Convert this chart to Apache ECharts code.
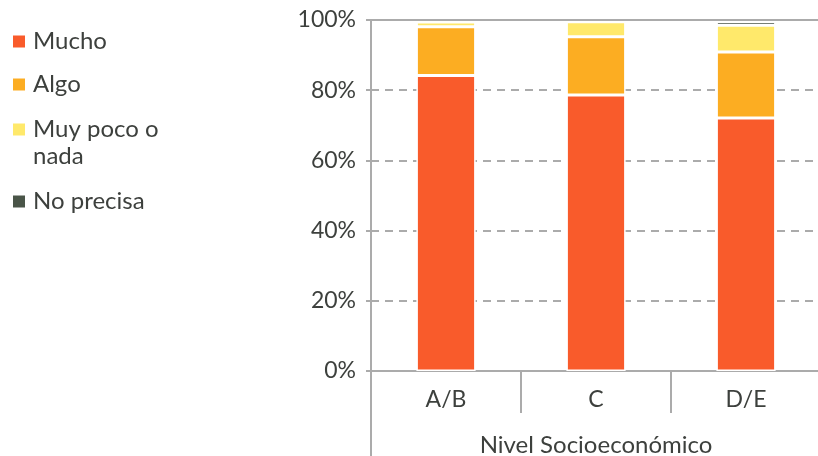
<!DOCTYPE html>
<html><head><meta charset="utf-8">
<script src="https://cdn.jsdelivr.net/npm/echarts@6/dist/echarts.min.js"></script>
<style>html,body{margin:0;padding:0;background:#fff}#c{width:818px;height:456px}</style>
</head><body><div id="c"></div>
<script>
const categories = ['A/B', 'C', 'D/E'];
const seriesNames = ['Mucho', 'Algo', 'Muy poco o nada', 'No precisa'];
const mucho = [84.2, 78.6, 72.1];
const algo = [13.9, 16.6, 18.8];
const muyPoco = [1.3, 4.3, 7.6];
const noPrecisa = [0, 0, 1.1];
const yTicks = [0, 20, 40, 60, 80, 100];
const axisTitle = 'Nivel Socioeconómico';

const colors = ['#F95B2B', '#FCAD22', '#FFE96B', '#4A5548'];
const textColor = '#3d403d';
const FONT = 'Lato';
const values = [mucho, algo, muyPoco, noPrecisa];

const chart = echarts.init(document.getElementById('c'), null, {renderer: 'canvas'});

function legendFor(i, top) {
  return {
    orient: 'vertical', left: 6, top: top,
    itemWidth: 14, itemHeight: 14, icon: 'rect',
    selectedMode: false,
    data: [seriesNames[i]],
    formatter: n => n === 'Muy poco o nada' ? '\nMuy poco o\nnada' : n,
    textStyle: {fontFamily: FONT, fontSize: 24, color: textColor, lineHeight: 27, padding: [0,0,0,2]}
  };
}

const option = {
  animation: false,
  color: colors,
  legend: [
    legendFor(0, 23),
    legendFor(1, 66),
    legendFor(2, 84),
    legendFor(3, 183)
  ],
  grid: {left: 371, right: -3, top: 20, bottom: 85, containLabel: false, outerBoundsMode: 'none'},
  xAxis: [{
    type: 'category', data: categories, position: 'bottom',
    axisLine: {lineStyle: {color: '#ababab', width: 2}},
    axisTick: {show: true, length: 42, lineStyle: {color: '#ababab', width: 2}},
    axisLabel: {fontFamily: FONT, fontSize: 23, color: textColor, margin: 17},
    name: axisTitle, nameLocation: 'middle', nameGap: 62,
    nameTextStyle: {fontFamily: FONT, fontSize: 24, color: textColor}
  }, {
    type: 'category', data: categories, position: 'top',
    axisLine: {lineStyle: {color: '#ababab', width: 2}},
    axisTick: {show: false}, axisLabel: {show: false}
  }],
  yAxis: {
    type: 'value', min: 0, max: 100, interval: 20,
    axisLine: {show: true, lineStyle: {color: '#ababab', width: 2}},
    axisTick: {show: true, length: 5, lineStyle: {color: '#ababab', width: 2}},
    axisLabel: {fontFamily: FONT, fontSize: 23, color: textColor, margin: 15,
      formatter: v => yTicks.includes(v) ? v + '%' : ''},
    splitLine: {show: true, lineStyle: {color: '#ababab', width: 2, type: [8, 6]}}
  },
  series: seriesNames.map((n, i) => ({
    name: n, type: 'bar', stack: 'total', barWidth: '39.5%',
    data: values[i],
    itemStyle: {color: colors[i], borderColor: '#ffffff', borderWidth: 1.5}
  }))
};
chart.setOption(option);

// extend y-axis line below the category band
const rect = chart.getModel().getComponent('grid').coordinateSystem.getRect();
chart.setOption({
  graphic: [{
    type: 'line', silent: true,
    shape: {x1: rect.x, y1: rect.y + rect.height, x2: rect.x, y2: 456},
    style: {stroke: '#ababab', lineWidth: 2}
  }]
});
</script>
</body></html>
